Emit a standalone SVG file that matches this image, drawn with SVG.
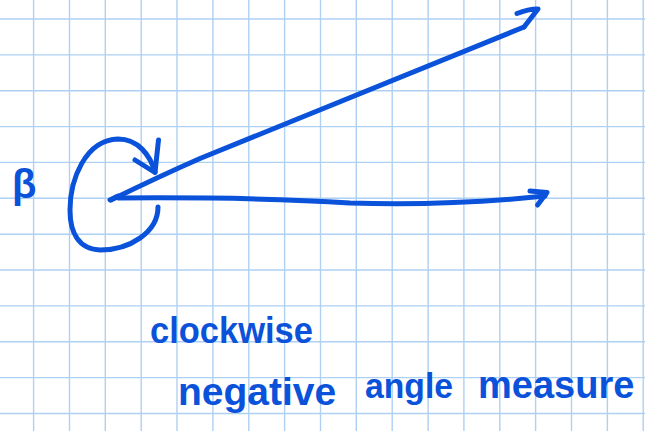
<svg xmlns="http://www.w3.org/2000/svg" width="645" height="431" viewBox="0 0 645 431">
<style>
.grid{stroke:#aed0f3;stroke-width:1.4;fill:none}
.ink{stroke:#0b52db;stroke-width:5;fill:none;stroke-linecap:round;stroke-linejoin:round}
.txt{fill:#0b52db;font-family:"Liberation Sans",Arial,sans-serif;font-weight:bold}
</style>
<rect width="645" height="431" fill="#ffffff"/>
<g id="grid" class="grid">
<path d="M33.6,0V431M69.5,0V431M105.3,0V431M141.2,0V431M177,0V431M212.9,0V431M248.8,0V431M284.6,0V431M320.5,0V431M356.3,0V431M392.2,0V431M428.1,0V431M463.9,0V431M499.8,0V431M535.6,0V431M571.5,0V431M607.4,0V431M643.2,0V431"/>
<path d="M0,19H645M0,54.9H645M0,90.7H645M0,126.6H645M0,162.4H645M0,198.3H645M0,234.2H645M0,270H645M0,305.9H645M0,341.7H645M0,377.6H645M0,413.5H645"/>
</g>
<g id="connectors">
<g id="ray-upper" class="ink">
<path d="M111,200 Q160,176 200,158.5 L524,27"/>
<path d="M517,13.5 Q528,9 538,9 L524,27"/>
</g>
<g id="ray-lower" class="ink">
<path d="M110,200 L118,196 M118,198 Q260,197 350,203 Q450,206 545,196"/>
<path d="M530,191 L547,192.5 L537.5,205"/>
</g>
<g id="angle-arc" class="ink">
<path d="M158,207 C158,232 130,250 100,250 C78,249 70,232 70,210 C70,180 85,140 118,139 C138,139 150,155 155,172"/>
<path d="M135,160 L155,172.5 L158.5,140"/>
</g>
</g>
<g id="label-beta">
<text class="txt" x="12" y="198" font-size="40" font-weight="normal">β</text>
</g>
<g id="label-clockwise">
<text class="txt" x="150" y="343" font-size="36" textLength="163" lengthAdjust="spacingAndGlyphs">clockwise</text>
</g>
<g id="label-measure">
<text class="txt"><tspan x="178" y="405" font-size="39">negative</tspan><tspan x="365" y="398" font-size="35" textLength="88" lengthAdjust="spacingAndGlyphs">angle</tspan><tspan x="478" y="398" font-size="38">measure</tspan></text>
</g>
</svg>
